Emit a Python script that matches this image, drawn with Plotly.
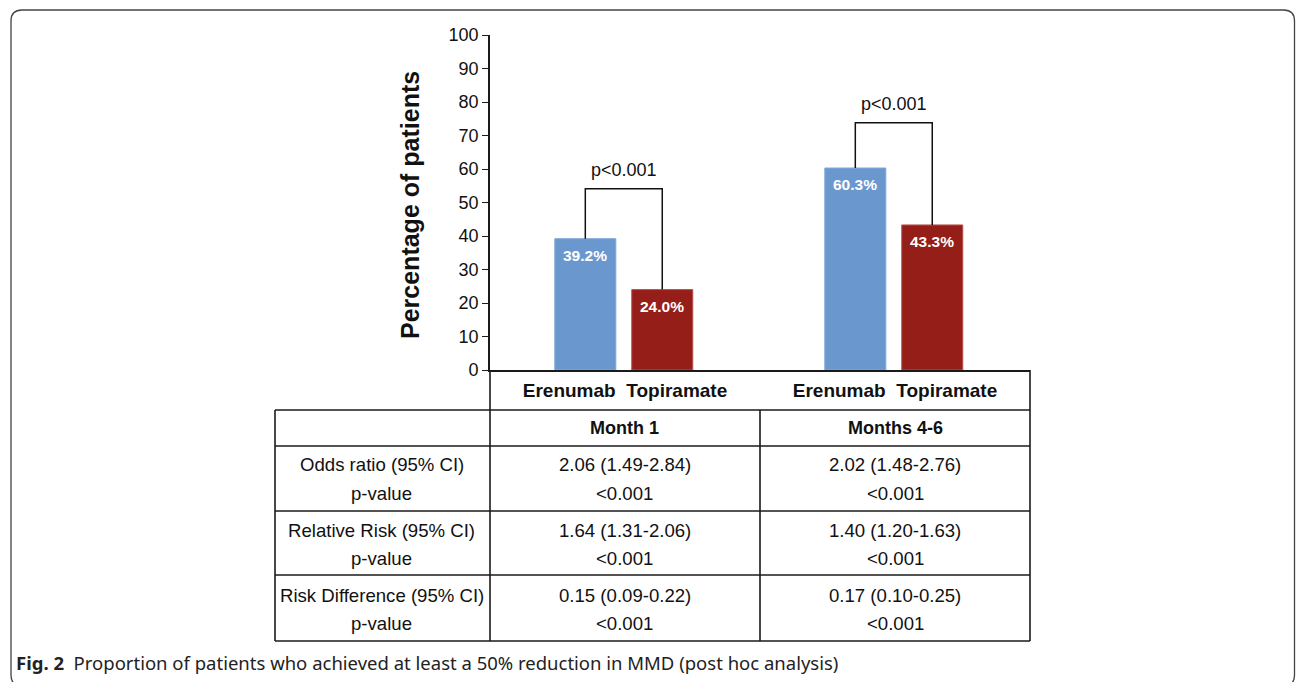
import plotly.graph_objects as go

# ---------------- data ----------------
periods = ["Month 1", "Months 4-6"]
erenumab = [39.2, 60.3]
topiramate = [24.0, 43.3]
bracket_tops = [54.1, 73.8]
p_labels = ["p<0.001", "p<0.001"]
y_ticks = [0, 10, 20, 30, 40, 50, 60, 70, 80, 90, 100]
group_label = "Erenumab&nbsp;&nbsp;Topiramate"

row_labels = [["Odds ratio (95% CI)", "p-value"],
              ["Relative Risk (95% CI)", "p-value"],
              ["Risk Difference (95% CI)", "p-value"]]
month1_vals = [["2.06 (1.49-2.84)", "<0.001"],
               ["1.64 (1.31-2.06)", "<0.001"],
               ["0.15 (0.09-0.22)", "<0.001"]]
month46_vals = [["2.02 (1.48-2.76)", "<0.001"],
                ["1.40 (1.20-1.63)", "<0.001"],
                ["0.17 (0.10-0.25)", "<0.001"]]
caption_bold = "Fig. 2"
caption_text = "Proportion of patients who achieved at least a 50% reduction in MMD (post hoc analysis)"

# ---------------- styling ----------------
W, H = 1296, 682
BLUE = "#6A98CE"
RED = "#951F18"
FONT = "Liberation Sans, Arial, sans-serif"

def X(px):
    return px / W

def Y(py):
    return 1 - py / H

x_pos = [0.5, 1.5]
bar_w = 0.226
off_e, off_t = -0.26, 0.025
ce = [x + off_e + bar_w / 2 for x in x_pos]
ct = [x + off_t + bar_w / 2 for x in x_pos]

fig = go.Figure()
fig.add_trace(go.Bar(x=x_pos, y=erenumab, width=bar_w, offset=off_e,
                     marker=dict(color=BLUE, line=dict(color="#7FA8D8", width=1)),
                     showlegend=False, hoverinfo="skip"))
fig.add_trace(go.Bar(x=x_pos, y=topiramate, width=bar_w, offset=off_t,
                     marker=dict(color=RED, line=dict(color="#B5524C", width=1)),
                     showlegend=False, hoverinfo="skip"))

# significance brackets
for i in range(len(periods)):
    fig.add_trace(go.Scatter(x=[ce[i], ce[i], ct[i], ct[i]],
                             y=[erenumab[i], bracket_tops[i], bracket_tops[i], topiramate[i]],
                             mode="lines", line=dict(color="#111", width=1.5),
                             showlegend=False, hoverinfo="skip"))

annotations = []
def ann(**kw):
    base = dict(showarrow=False, xanchor="center", yanchor="middle")
    base.update(kw)
    annotations.append(base)

# value labels in bars
for i in range(len(periods)):
    for c, v in ((ce[i], erenumab[i]), (ct[i], topiramate[i])):
        ann(x=c, y=v, xref="x", yref="y", text=f"<b>{v:.1f}%</b>", yshift=-17,
            font=dict(family=FONT, size=15.5, color="white"))
    ann(x=(ce[i] + ct[i]) / 2, y=bracket_tops[i], xref="x", yref="y",
        text=p_labels[i], yshift=19, font=dict(family=FONT, size=18, color="#111"))

# y title
ann(x=X(410), y=Y(205), xref="paper", yref="paper",
    text="<b>Percentage of patients</b>", textangle=-90,
    font=dict(family=FONT, size=25, color="#111"))

# table text
col_centers = [X(382), X(624.5), X(895)]
ann(x=col_centers[1], y=Y(428), xref="paper", yref="paper", text=f"<b>{periods[0]}</b>",
    font=dict(family=FONT, size=18, color="#111"))
ann(x=col_centers[2], y=Y(428), xref="paper", yref="paper", text=f"<b>{periods[1]}</b>",
    font=dict(family=FONT, size=18, color="#111"))
row_tops = [446, 511, 576]
for r in range(3):
    for li, dy in enumerate((19, 47)):
        yy = Y(row_tops[r] + dy)
        for ci, txt in enumerate((row_labels[r][li], month1_vals[r][li], month46_vals[r][li])):
            ann(x=col_centers[ci], y=yy, xref="paper", yref="paper", text=txt,
                font=dict(family=FONT, size=18.6, color="#111"))

# caption
ann(x=X(14), y=Y(662), xref="paper", yref="paper", xanchor="left",
    text=f"<b>{caption_bold}</b>  {caption_text}",
    font=dict(family="Noto Sans, sans-serif", size=18.5, color="#222"))

shapes = []
LC = "#1a1a1a"
def hline(y, x0, x1):
    shapes.append(dict(type="line", xref="paper", yref="paper", x0=X(x0), x1=X(x1),
                       y0=Y(y), y1=Y(y), line=dict(color=LC, width=1.6)))
def vline(x, y0, y1):
    shapes.append(dict(type="line", xref="paper", yref="paper", x0=X(x), x1=X(x),
                       y0=Y(y0), y1=Y(y1), line=dict(color=LC, width=1.6)))

for yy in (410, 446, 511, 575, 641):
    hline(yy, 275, 1030)
vline(275, 410, 641)
vline(490, 370, 641)
vline(760, 410, 641)
vline(1030, 370, 641)

# outer rounded border
x0, y0, x1, y1, r = X(11), Y(10), X(1294.5), Y(686), 11
rx, ry = r / W, r / H
path = (f"M {x0+rx},{y0} L {x1-rx},{y0} Q {x1},{y0} {x1},{y0-ry} "
        f"L {x1},{y1+ry} Q {x1},{y1} {x1-rx},{y1} L {x0+rx},{y1} Q {x0},{y1} {x0},{y1+ry} "
        f"L {x0},{y0-ry} Q {x0},{y0} {x0+rx},{y0} Z")
shapes.append(dict(type="path", xref="paper", yref="paper", path=path,
                   line=dict(color="#444", width=1.3)))

fig.update_layout(
    template="none",
    width=W, height=H, margin=dict(l=0, r=0, t=0, b=0, autoexpand=False),
    paper_bgcolor="white", plot_bgcolor="white",
    barmode="overlay",
    xaxis=dict(domain=[X(490), X(1030)], range=[0, 2], tickvals=x_pos,
               ticktext=[f"<b>{group_label}</b>"] * 2, showgrid=False, zeroline=False,
               showline=True, linecolor=LC, linewidth=1.6, automargin=False,
               ticks="outside", ticklen=2, tickcolor="rgba(0,0,0,0)",
               tickfont=dict(family=FONT, size=19, color="#111"), fixedrange=True),
    yaxis=dict(domain=[Y(370), Y(35)], range=[0, 100], tickvals=y_ticks,
               showgrid=False, zeroline=False, showline=True, linecolor=LC, linewidth=1.6,
               ticks="outside", ticklen=6, tickcolor=LC, tickwidth=1.3, automargin=False,
               tickfont=dict(family=FONT, size=18, color="#111"), fixedrange=True),
    annotations=annotations, shapes=shapes,
)

fig.write_html("out.html", config={"displayModeBar": False},
               post_script="document.body.style.margin='0';document.body.style.overflow='hidden';")
